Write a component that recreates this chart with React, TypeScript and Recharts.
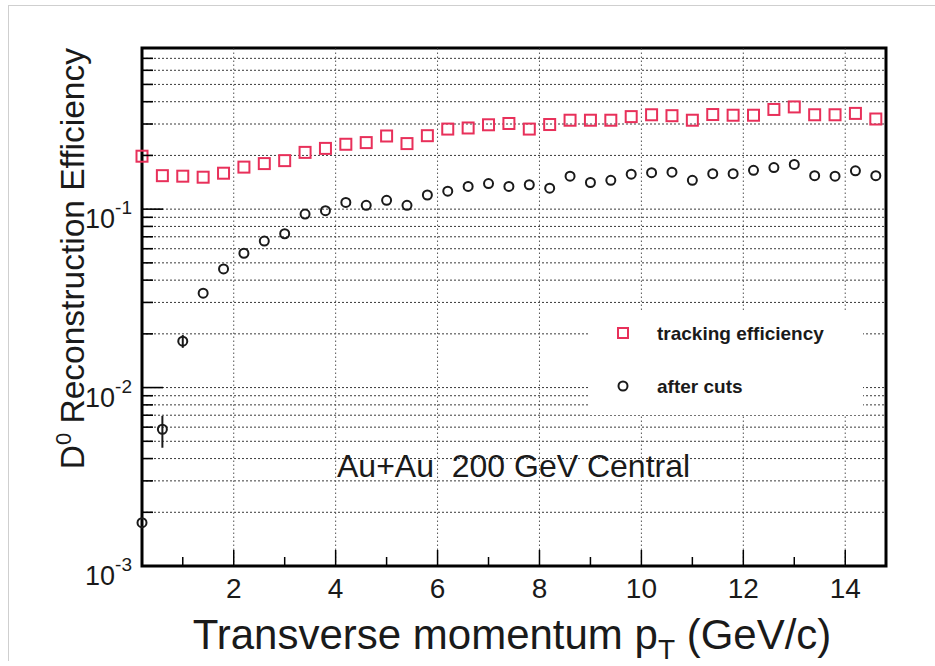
import React from "react";
import {
  ScatterChart,
  Scatter,
  XAxis,
  YAxis,
  ErrorBar,
  ReferenceLine,
  ReferenceArea,
} from "recharts";

// pT bin centres (GeV/c)
const pt = [
  0.2, 0.6, 1.0, 1.4, 1.8, 2.2, 2.6, 3.0, 3.4, 3.8, 4.2, 4.6, 5.0, 5.4, 5.8, 6.2, 6.6, 7.0, 7.4,
  7.8, 8.2, 8.6, 9.0, 9.4, 9.8, 10.2, 10.6, 11.0, 11.4, 11.8, 12.2, 12.6, 13.0, 13.4, 13.8, 14.2, 14.6,
];

const tracking = [
  0.198, 0.154, 0.153, 0.151, 0.159, 0.172, 0.18, 0.187, 0.208, 0.219, 0.231, 0.236, 0.257, 0.233,
  0.258, 0.281, 0.285, 0.297, 0.302, 0.281, 0.298, 0.315, 0.315, 0.315, 0.33, 0.338, 0.334, 0.315,
  0.339, 0.336, 0.336, 0.362, 0.374, 0.338, 0.338, 0.344, 0.32,
];

const afterCuts = [
  0.00175, 0.00584, 0.0182, 0.0338, 0.0462, 0.0566, 0.0662, 0.0728, 0.0938, 0.098, 0.109, 0.105,
  0.112, 0.105, 0.12, 0.126, 0.134, 0.139, 0.134, 0.137, 0.131, 0.153, 0.141, 0.145, 0.157, 0.16,
  0.161, 0.145, 0.158, 0.158, 0.165, 0.171, 0.178, 0.154, 0.153, 0.164, 0.154,
];

// [down, up] errors on the "after cuts" points
const afterCutsErr: [number, number][] = [
  [0, 0], [0.00124, 0.0011], [0.0015, 0.0015], [0, 0], [0, 0], [0, 0], [0, 0], [0, 0], [0, 0],
  [0, 0], [0, 0], [0, 0], [0, 0], [0, 0], [0, 0], [0, 0], [0, 0], [0, 0], [0, 0], [0, 0], [0, 0],
  [0, 0], [0, 0], [0, 0], [0, 0], [0, 0], [0, 0], [0, 0], [0, 0], [0, 0], [0, 0], [0, 0], [0, 0],
  [0, 0], [0, 0], [0, 0], [0, 0],
];

const xDomain = [0.2, 14.8];
const yDomain = [0.001, 0.8];
const xMajor = [2, 4, 6, 8, 10, 12, 14];
const xTicks = [1, 2, 3, 4, 5, 6, 7, 8, 9, 10, 11, 12, 13, 14];
const yMajor = [0.001, 0.01, 0.1];
const yTicks = [
  0.001, 0.002, 0.003, 0.004, 0.005, 0.006, 0.007, 0.008, 0.009,
  0.01, 0.02, 0.03, 0.04, 0.05, 0.06, 0.07, 0.08, 0.09,
  0.1, 0.2, 0.3, 0.4, 0.5, 0.6, 0.7,
];
const yLabels: Record<string, string> = { "0.001": "-3", "0.01": "-2", "0.1": "-1" };

const RED = "#e8305a";
const INK = "#1a1a1a";
const FONT = "'Liberation Sans', Arial, Helvetica, sans-serif";

const trackData = pt.map((x, i) => ({ pt: x, value: tracking[i] }));
const cutsData = pt.map((x, i) => ({ pt: x, value: afterCuts[i], err: afterCutsErr[i] }));

function XTick(props: any) {
  const { x, y, payload } = props;
  const major = xMajor.includes(payload.value);
  return (
    <g>
      <line x1={x} x2={x} y1={y} y2={y - (major ? 16 : 9)} stroke="#000" strokeWidth={1.5} />
      {major && (
        <text x={x} y={y + 32} textAnchor="middle" fontSize={28} fill={INK} fontFamily={FONT}>
          {payload.value}
        </text>
      )}
    </g>
  );
}

function YTick(props: any) {
  const { x, y, payload } = props;
  const major = yMajor.includes(payload.value);
  return (
    <g>
      <line x1={x} x2={x + (major ? 21 : 11)} y1={y} y2={y} stroke="#000" strokeWidth={1.6} />
      {major && (
        <text x={x - 10} y={y + 19} textAnchor="end" fontSize={27} fill={INK} fontFamily={FONT}>
          10
          <tspan dy={-14} fontSize={19}>
            {yLabels[String(payload.value)]}
          </tspan>
        </text>
      )}
    </g>
  );
}

const SquareMark = (p: any) => (
  <rect x={p.cx - 5.5} y={p.cy - 5.5} width={11} height={11} fill="none" stroke={RED} strokeWidth={2} />
);
const CircleMark = (p: any) => (
  <circle cx={p.cx} cy={p.cy} r={4.5} fill="none" stroke={INK} strokeWidth={2} />
);

export default function App() {
  return (
    <div style={{ position: "absolute", left: 0, top: 0, width: 935, height: 666, background: "#fff" }}>
      <div
        style={{
          position: "absolute",
          left: 8,
          top: 5,
          width: 940,
          height: 655,
          borderLeft: "1px solid #cfcfcf",
          borderTop: "1px solid #cfcfcf",
        }}
      />
      <ScatterChart width={935} height={666} margin={{ top: 48, right: 49, bottom: 0, left: 0 }}>
        <XAxis
          type="number"
          dataKey="pt"
          domain={xDomain}
          ticks={xTicks}
          interval={0}
          axisLine={false}
          tickLine={false}
          tickSize={0}
          tickMargin={0}
          height={100}
          tick={<XTick />}
        />
        <YAxis
          type="number"
          dataKey="value"
          scale="log"
          domain={yDomain}
          ticks={yTicks}
          interval={0}
          axisLine={false}
          tickLine={false}
          tickSize={0}
          tickMargin={0}
          width={142}
          tick={<YTick />}
        />
        {yTicks.slice(1).map((v) => (
          <ReferenceLine key={"h" + v} y={v} stroke="#3a3a3a" strokeWidth={1} strokeDasharray="2 2" />
        ))}
        {xMajor.map((v) => (
          <ReferenceLine key={"v" + v} x={v} stroke="#555" strokeWidth={1} strokeDasharray="1.5 2.5" />
        ))}
        <ReferenceArea
          x1={xDomain[0]}
          x2={xDomain[1]}
          y1={yDomain[0]}
          y2={yDomain[1]}
          fill="none"
          fillOpacity={0}
          stroke="#000"
          strokeWidth={3}
        />
        <Scatter name="tracking efficiency" data={trackData} shape={SquareMark} isAnimationActive={false} />
        <Scatter name="after cuts" data={cutsData} shape={CircleMark} isAnimationActive={false}>
          <ErrorBar dataKey="err" direction="y" width={0} stroke={INK} strokeWidth={2} />
        </Scatter>
      </ScatterChart>
      <svg
        width={935}
        height={666}
        style={{ position: "absolute", left: 0, top: 0, pointerEvents: "none" }}
        fontFamily={FONT}
      >
        <text transform="translate(84,48) rotate(-90)" textAnchor="end" fontSize={33.5} fill={INK}>
          D
          <tspan dy={-13} fontSize={22}>
            0
          </tspan>
          <tspan dy={13}> Reconstruction Efficiency</tspan>
        </text>
        <text x={512} y={649} textAnchor="middle" fontSize={42} fill={INK}>
          Transverse momentum p
          <tspan dy={10} fontSize={28}>
            T
          </tspan>
          <tspan dy={-10}> (GeV/c)</tspan>
        </text>
        <text x={337} y={477} fontSize={32} fill={INK} xmlSpace="preserve" style={{ whiteSpace: "pre" }}>
          {"Au+Au  200 GeV Central"}
        </text>
        <rect x={590} y={310} width={273} height={105} fill="#fff" />
        <rect x={618} y={328} width={10} height={10} fill="none" stroke={RED} strokeWidth={2} />
        <text x={657} y={340} fontSize={19} fontWeight="bold" fill={INK}>
          tracking efficiency
        </text>
        <circle cx={623} cy={386} r={4.5} fill="none" stroke={INK} strokeWidth={2} />
        <text x={657} y={393} fontSize={19} fontWeight="bold" fill={INK}>
          after cuts
        </text>
      </svg>
    </div>
  );
}
